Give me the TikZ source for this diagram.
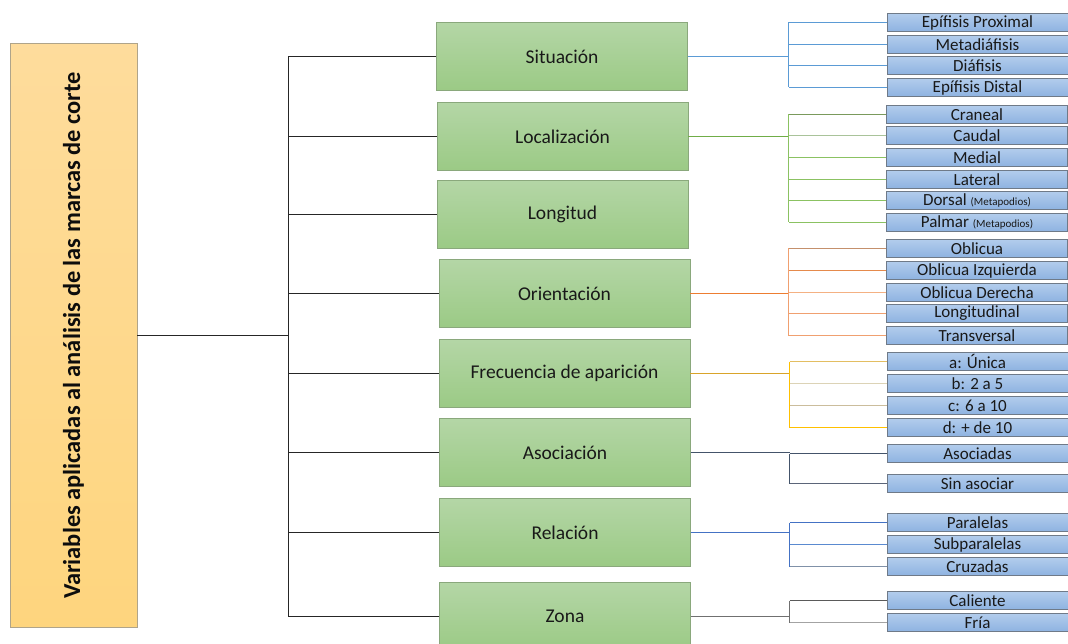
\documentclass[tikz,border=0pt]{standalone}
\usepackage{fontspec}
\setmainfont{Carlito}
\definecolor{gtop}{HTML}{B4D6A6}
\definecolor{gbot}{HTML}{9BCA85}
\definecolor{gborder}{HTML}{8AA87C}
\definecolor{btop}{HTML}{B2CCEC}
\definecolor{bbot}{HTML}{8EB3E1}
\definecolor{bborder}{HTML}{6F7A88}
\definecolor{rtop}{HTML}{FEDC9C}
\definecolor{rbot}{HTML}{FED57E}
\definecolor{rborder}{HTML}{AFA48A}
\definecolor{csit}{HTML}{5B9BD5}
\definecolor{cloc}{HTML}{70AD47}
\definecolor{clocA}{HTML}{7A9A5C}
\definecolor{clocB}{HTML}{A9C39A}
\definecolor{clocC}{HTML}{8BC262}
\definecolor{cori}{HTML}{ED7D31}
\definecolor{coriA}{HTML}{C4906C}
\definecolor{coriB}{HTML}{E58A4C}
\definecolor{coriC}{HTML}{F4B183}
\definecolor{coriD}{HTML}{F0A070}
\definecolor{cfre}{HTML}{D9A42A}
\definecolor{cfreA}{HTML}{E3BE62}
\definecolor{cfreB}{HTML}{DCD3B6}
\definecolor{cfreC}{HTML}{CBBD9C}
\definecolor{cfreD}{HTML}{FFC000}
\definecolor{caso}{HTML}{44546A}
\definecolor{casoB}{HTML}{5B6579}
\definecolor{crel}{HTML}{4472C4}
\definecolor{crelB}{HTML}{5A8AD0}
\definecolor{crelC}{HTML}{8091A8}
\definecolor{czon}{HTML}{707070}
\definecolor{czonA}{HTML}{5A5A5A}
\definecolor{czonB}{HTML}{A3A3A3}
\begin{document}
\begin{tikzpicture}[x=1pt,y=-1pt,
  gbox/.style={draw=gborder, line width=0.9pt, top color=gtop, bottom color=gbot,
    minimum width=251pt, minimum height=68pt, inner sep=0pt,
    font=\fontsize{19.5}{22}\selectfont, text=black!90},
  bbox/.style={draw=bborder, line width=0.9pt, top color=btop, bottom color=bbot,
    minimum width=181pt, minimum height=17.5pt, inner sep=0pt,
    font=\fontsize{17}{18}\selectfont, text=black!90},
  blk/.style={draw=black!85, line width=1.5pt},
  lnk/.style={line width=1.5pt}
]
\useasboundingbox (0,0) rectangle (1068,644);
\clip (0,0) rectangle (1068,644);

% root
\node[draw=rborder, line width=0.9pt, top color=rtop, bottom color=rbot,
  minimum width=127pt, minimum height=584pt, inner sep=0pt] (root) at (73.5,335.5) {};
\node[rotate=90, font=\bfseries\fontsize{24.4}{28}\selectfont, text=black!95] (roottext) at (root.center) {Variables aplicadas al análisis de las marcas de corte};

% green boxes
\node[gbox] (g1) at (562,56.5) {Situación};
\node[gbox] (g2) at (562.5,136.5) {Localización};
\node[gbox] (g3) at (562.5,214.5) {Longitud};
\node[gbox] (g4) at (564.5,293.5) {Orientación};
\node[gbox] (g5) at (564.5,373.5) {Frecuencia de aparición};
\node[gbox] (g6) at (565,452.5) {Asociación};
\node[gbox] (g7) at (565,532.5) {Relación};
\node[gbox] (g8) at (565,616.5) {Zona};

% left tree
\coordinate (bus) at (288.5,335.5);
\draw[blk] (root.east) -- (bus);
\draw[blk] (g1.west -| bus) -- (g8.west -| bus);
\foreach \g in {g1,g2,g3,g4,g5,g6,g7,g8}{
  \draw[blk] (\g.west) -- (\g.west -| bus);
}

% blue boxes
\node[bbox] (s1) at (977.5,22.5) {Epífisis Proximal};
\node[bbox] (s2) at (977.5,44.5) {Metadiáfisis};
\node[bbox] (s3) at (977.5,65.5) {Diáfisis};
\node[bbox] (s4) at (977.5,87.5) {Epífisis Distal};

\node[bbox] (l1) at (977,114.5) {Craneal};
\node[bbox] (l2) at (977,135.5) {Caudal};
\node[bbox] (l3) at (977,157.5) {Medial};
\node[bbox] (l4) at (977,179.5) {Lateral};
\node[bbox] (l5) at (977,200.5) {Dorsal {\fontsize{11}{12}\selectfont (Metapodios)}};
\node[bbox] (l6) at (977,222.5) {Palmar {\fontsize{11}{12}\selectfont (Metapodios)}};

\node[bbox] (o1) at (977,248.5) {Oblicua};
\node[bbox] (o2) at (977,270.5) {Oblicua Izquierda};
\node[bbox] (o3) at (977,292.5) {Oblicua Derecha};
\node[bbox] (o4) at (977,313.5) {Longitudinal};
\node[bbox] (o5) at (977,335.5) {Transversal};

\node[bbox] (f1) at (977.5,361.5) {a: Única};
\node[bbox] (f2) at (977.5,383.5) {b: 2 a 5};
\node[bbox] (f3) at (977.5,405.5) {c: 6 a 10};
\node[bbox] (f4) at (977.5,427.5) {d: + de 10};

\node[bbox] (a1) at (977.5,453.5) {Asociadas};
\node[bbox] (a2) at (977.5,483.5) {Sin asociar};

\node[bbox] (e1) at (977.5,522.5) {Paralelas};
\node[bbox] (e2) at (977.5,544.5) {Subparalelas};
\node[bbox] (e3) at (977.5,566.5) {Cruzadas};

\node[bbox] (z1) at (977.5,600.5) {Caliente};
\node[bbox] (z2) at (977.5,622.5) {Fría};

% right connectors
\coordinate (r1) at (788.5,56.5);
\coordinate (r2) at (788.5,136.5);
\coordinate (r4) at (788.5,293.5);
\coordinate (r5) at (789.5,373.5);
\coordinate (r6) at (789.5,452.5);
\coordinate (r7) at (789.5,532.5);
\coordinate (r8) at (789.5,616.5);

% Situacion
\draw[lnk, csit] (g1.east) -- (r1);
\draw[lnk, csit] (s1.west -| r1) -- (s4.west -| r1);
\foreach \c in {s1,s2,s3,s4}{ \draw[lnk, csit] (\c.west) -- (\c.west -| r1); }

% Localizacion
\draw[lnk, cloc] (g2.east) -- (r2);
\draw[lnk, clocC] (l1.west -| r2) -- (l6.west -| r2);
\draw[lnk, clocA] (l1.west) -- (l1.west -| r2);
\draw[lnk, clocB] (l2.west) -- (l2.west -| r2);
\foreach \c in {l3,l4,l5,l6}{ \draw[lnk, clocC] (\c.west) -- (\c.west -| r2); }

% Orientacion
\draw[lnk, cori] (g4.east) -- (r4);
\draw[lnk, coriD] (o1.west -| r4) -- (o5.west -| r4);
\draw[lnk, coriA] (o1.west) -- (o1.west -| r4);
\draw[lnk, coriB] (o2.west) -- (o2.west -| r4);
\draw[lnk, coriC] (o3.west) -- (o3.west -| r4);
\draw[lnk, coriD] (o4.west) -- (o4.west -| r4);
\draw[lnk, coriD] (o5.west) -- (o5.west -| r4);

% Frecuencia
\draw[lnk, cfre] (g5.east) -- (r5);
\draw[lnk, cfreD] (f1.west -| r5) -- (f4.west -| r5);
\draw[lnk, cfreA] (f1.west) -- (f1.west -| r5);
\draw[lnk, cfreB] (f2.west) -- (f2.west -| r5);
\draw[lnk, cfreC] (f3.west) -- (f3.west -| r5);
\draw[lnk, cfreD] (f4.west) -- (f4.west -| r5);

% Asociacion
\draw[lnk, caso] (g6.east) -- (r6);
\draw[lnk, caso] (a1.west -| r6) -- (a2.west -| r6);
\draw[lnk, caso] (a1.west) -- (a1.west -| r6);
\draw[lnk, casoB] (a2.west) -- (a2.west -| r6);

% Relacion
\draw[lnk, crel] (g7.east) -- (r7);
\draw[lnk, crel] (e1.west -| r7) -- (e3.west -| r7);
\draw[lnk, crel] (e1.west) -- (e1.west -| r7);
\draw[lnk, crelB] (e2.west) -- (e2.west -| r7);
\draw[lnk, crelC] (e3.west) -- (e3.west -| r7);

% Zona
\draw[lnk, czon] (g8.east) -- (r8);
\draw[lnk, czon] (z1.west -| r8) -- (z2.west -| r8);
\draw[lnk, czonA] (z1.west) -- (z1.west -| r8);
\draw[lnk, czonB] (z2.west) -- (z2.west -| r8);
\end{tikzpicture}
\end{document}
